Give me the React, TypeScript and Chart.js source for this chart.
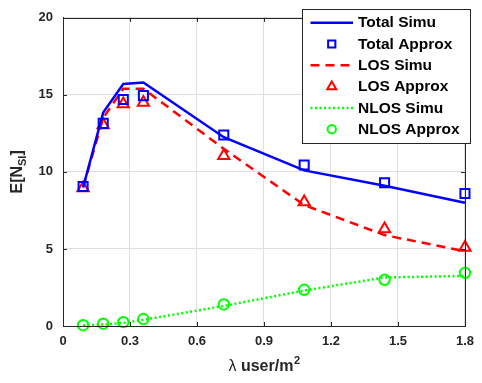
import React, { useEffect, useRef } from "react";
import { Chart, registerables } from "chart.js";

Chart.register(...registerables);

const lambdaValues = [0.09, 0.18, 0.27, 0.36, 0.72, 1.08, 1.44, 1.8];
const totalSimu = [9.0, 13.85, 15.7, 15.8, 12.25, 10.1, 9.1, 8.0];
const totalApprox = [9.05, 13.15, 14.7, 14.95, 12.4, 10.45, 9.3, 8.6];
const losSimu = [9.0, 13.5, 15.4, 15.4, 11.5, 7.85, 5.9, 4.85];
const losApprox = [8.95, 13.05, 14.4, 14.5, 11.05, 8.05, 6.3, 5.1];
const nlosSimu = [0.05, 0.1, 0.2, 0.4, 1.3, 2.3, 3.15, 3.25];
const nlosApprox = [0.05, 0.15, 0.25, 0.45, 1.4, 2.35, 3.0, 3.45];
const xTicks = [0, 0.3, 0.6, 0.9, 1.2, 1.5, 1.8];
const yTicks = [0, 5, 10, 15, 20];
const legendLabels = ["Total Simu", "Total Approx", "LOS Simu", "LOS Approx", "NLOS Simu", "NLOS Approx"];

const FONT = '"Liberation Sans", Arial, Helvetica, sans-serif';
const TEXT = "#262626";
const BLUE = "#0000ff";
const RED = "#ff0000";
const GREEN = "#00ff00";

const pts = (ys: number[]) => lambdaValues.map((x, i) => ({ x, y: ys[i] }));

function drawMarker(ctx: CanvasRenderingContext2D, style: string, r: number, x: number, y: number) {
  ctx.beginPath();
  if (style === "rect") {
    const s = Math.SQRT1_2 * r;
    ctx.rect(x - s, y - s, 2 * s, 2 * s);
  } else if (style === "triangle") {
    ctx.moveTo(x, y - r);
    ctx.lineTo(x + r * Math.sin((2 * Math.PI) / 3), y + r / 2);
    ctx.lineTo(x - r * Math.sin((2 * Math.PI) / 3), y + r / 2);
    ctx.closePath();
  } else {
    ctx.arc(x, y, r, 0, Math.PI * 2);
  }
  ctx.stroke();
}

const decorPlugin = {
  id: "decor",
  afterDatasetsDraw(chart: any) {
    const { ctx, chartArea: a, scales } = chart;
    const xs = scales.x;
    const ys = scales.y;
    ctx.save();
    // box
    ctx.strokeStyle = TEXT;
    ctx.lineWidth = 1;
    ctx.strokeRect(Math.round(a.left) + 0.5, Math.round(a.top) + 0.5, Math.round(a.right - a.left), Math.round(a.bottom - a.top));
    // inward ticks
    const tl = 4;
    xTicks.forEach((v) => {
      const px = Math.round(xs.getPixelForValue(v)) + 0.5;
      ctx.beginPath();
      ctx.moveTo(px, a.bottom);
      ctx.lineTo(px, a.bottom - tl);
      ctx.moveTo(px, a.top);
      ctx.lineTo(px, a.top + tl);
      ctx.stroke();
    });
    yTicks.forEach((v) => {
      const py = Math.round(ys.getPixelForValue(v)) + 0.5;
      ctx.beginPath();
      ctx.moveTo(a.left, py);
      ctx.lineTo(a.left + tl, py);
      ctx.moveTo(a.right, py);
      ctx.lineTo(a.right - tl, py);
      ctx.stroke();
    });

    // x title
    ctx.fillStyle = TEXT;
    ctx.textBaseline = "alphabetic";
    const cx = (a.left + a.right) / 2;
    const ty = 371;
    const f1 = `16px ${FONT}`;
    const f2 = `bold 16px ${FONT}`;
    const f3 = `bold 11px ${FONT}`;
    ctx.font = f1;
    const w1 = ctx.measureText("λ ").width;
    ctx.font = f2;
    const w2 = ctx.measureText("user/m").width;
    ctx.font = f3;
    const w3 = ctx.measureText("2").width;
    let sx = cx - (w1 + w2 + w3) / 2;
    ctx.textAlign = "left";
    ctx.font = f1;
    ctx.fillText("λ ", sx, ty);
    sx += w1;
    ctx.font = f2;
    ctx.fillText("user/m", sx, ty);
    sx += w2;
    ctx.font = f3;
    ctx.fillText("2", sx + 0.5, ty - 7);

    // y title
    ctx.save();
    ctx.translate(22, (a.top + a.bottom) / 2);
    ctx.rotate(-Math.PI / 2);
    const g1 = `bold 16px ${FONT}`;
    const g2 = `bold 11px ${FONT}`;
    ctx.font = g1;
    const a1 = ctx.measureText("E[N").width;
    const a3 = ctx.measureText("]").width;
    ctx.font = g2;
    const a2 = ctx.measureText("SI").width;
    let lx = -(a1 + a2 + a3) / 2;
    ctx.font = g1;
    ctx.fillText("E[N", lx, 0);
    lx += a1;
    ctx.font = g2;
    ctx.fillText("SI", lx, 4);
    lx += a2;
    ctx.font = g1;
    ctx.fillText("]", lx, 0);
    ctx.restore();

    // legend
    const lx0 = 302.5, ly0 = 9.5, lw = 168, lh = 134;
    ctx.fillStyle = "#ffffff";
    ctx.fillRect(lx0, ly0, lw, lh);
    ctx.strokeStyle = TEXT;
    ctx.lineWidth = 1;
    ctx.strokeRect(lx0, ly0, lw, lh);
    const rowH = 21.3;
    const firstY = 22.7;
    chart.data.datasets.forEach((ds: any, i: number) => {
      const y = firstY + i * rowH;
      const sampleL = 310.5, sampleR = 353;
      if (ds.showLine) {
        ctx.save();
        ctx.strokeStyle = ds.borderColor;
        ctx.lineWidth = ds.borderWidth;
        ctx.setLineDash(ds.borderDash || []);
        ctx.beginPath();
        ctx.moveTo(sampleL, y);
        ctx.lineTo(sampleR, y);
        ctx.stroke();
        ctx.restore();
      } else {
        ctx.save();
        ctx.strokeStyle = ds.pointBorderColor;
        ctx.lineWidth = ds.pointBorderWidth;
        drawMarker(ctx, ds.pointStyle, ds.pointRadius * 0.8, (sampleL + sampleR) / 2, y);
        ctx.restore();
      }
      ctx.fillStyle = "#000000";
      ctx.font = `bold 15.5px ${FONT}`;
      ctx.textAlign = "left";
      ctx.textBaseline = "middle";
      ctx.fillText(legendLabels[i], 358, y + 0.5);
    });
    ctx.restore();
  },
};

export default function App() {
  const ref = useRef<HTMLCanvasElement | null>(null);
  useEffect(() => {
    if (!ref.current) return;
    const lineDs = (label: string, ys: number[], color: string, dash: number[]) => ({
      label,
      data: pts(ys),
      showLine: true,
      borderColor: color,
      borderWidth: 2.5,
      borderDash: dash,
      pointRadius: 0,
      fill: false,
      tension: 0,
      clip: false as any,
    });
    const markDs = (label: string, ys: number[], color: string, style: string, r: number) => ({
      label,
      data: pts(ys),
      showLine: false,
      borderColor: color,
      backgroundColor: "rgba(0,0,0,0)",
      pointBorderColor: color,
      pointBackgroundColor: "rgba(0,0,0,0)",
      pointBorderWidth: 2,
      pointRadius: r,
      pointStyle: style,
      clip: false as any,
    });
    const chart = new Chart(ref.current, {
      type: "scatter",
      data: {
        datasets: [
          lineDs("Total Simu", totalSimu, BLUE, []),
          markDs("Total Approx", totalApprox, BLUE, "rect", 6.4),
          lineDs("LOS Simu", losSimu, RED, [9, 6]),
          markDs("LOS Approx", losApprox, RED, "triangle", 6.5),
          lineDs("NLOS Simu", nlosSimu, GREEN, [2, 2.5]),
          markDs("NLOS Approx", nlosApprox, GREEN, "circle", 5.2),
        ] as any,
      },
      options: {
        animation: false,
        responsive: false,
        layout: { padding: { top: 9, right: 12, left: 0, bottom: 0 } },
        plugins: { legend: { display: false }, tooltip: { enabled: false } },
        scales: {
          x: {
            type: "linear",
            min: 0,
            max: 1.8,
            afterBuildTicks: (s: any) => {
              s.ticks = xTicks.map((v) => ({ value: v }));
            },
            afterFit: (s: any) => {
              s.height = 57;
            },
            grid: { color: "#dfdfdf", drawTicks: false },
            border: { display: true, color: TEXT },
            ticks: {
              padding: 8,
              color: TEXT,
              font: { family: FONT, size: 13, weight: "bold" },
              callback: (v: any) => (v === 0 ? "0" : Number(v).toFixed(1)),
            },
          },
          y: {
            type: "linear",
            min: 0,
            max: 20,
            afterBuildTicks: (s: any) => {
              s.ticks = yTicks.map((v) => ({ value: v }));
            },
            afterFit: (s: any) => {
              s.width = 63;
            },
            grid: { color: "#dfdfdf", drawTicks: false },
            border: { display: true, color: TEXT },
            ticks: {
              padding: 10,
              color: TEXT,
              font: { family: FONT, size: 13, weight: "bold" },
              callback: (v: any) => String(v),
            },
          },
        },
      },
      plugins: [decorPlugin],
    });
    return () => chart.destroy();
  }, []);
  return (
    <div style={{ position: "absolute", left: 0, top: 0, width: 482, height: 383, background: "#fff" }}>
      <canvas ref={ref} width={482} height={383} />
    </div>
  );
}
